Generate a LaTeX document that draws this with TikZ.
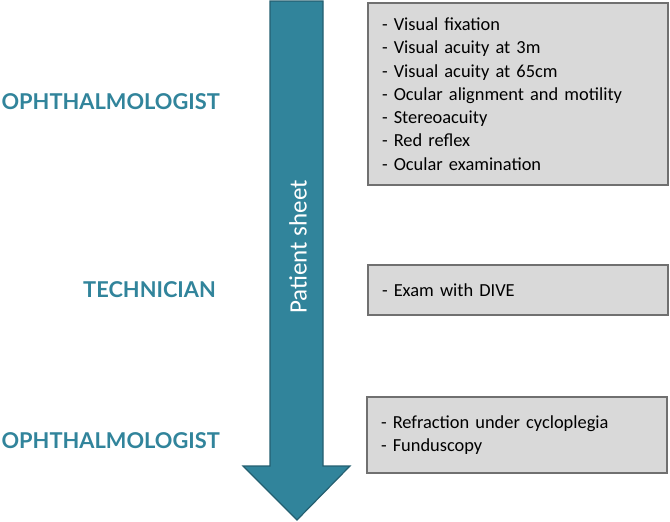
\documentclass[tikz,border=0pt]{standalone}
\usepackage{fontspec}
\setmainfont{Carlito}
\newfontfamily\rolefont{Lato}
\usetikzlibrary{positioning}

\definecolor{sheetteal}{HTML}{31849B}
\definecolor{sheetedge}{HTML}{245F70}
\definecolor{boxfill}{HTML}{D9D9D9}
\definecolor{boxedge}{HTML}{707070}

\begin{document}
\begin{tikzpicture}[
    x=1pt, y=-1pt,
    % styles
    role/.style={anchor=east, text=sheetteal, font=\rolefont\bfseries\fontsize{21.8}{24}\selectfont, inner sep=0pt},
    task/.style={rectangle, draw=boxedge, line width=1.6pt, fill=boxfill, minimum width=300pt, text width=272pt, inner xsep=14pt, align=left, font=\fontsize{18.4}{23.3}\selectfont},
    sheet/.style={fill=sheetteal, draw=sheetedge, line width=1.2pt, line join=miter}
]
\useasboundingbox (0,0) rectangle (670,522);

% --- patient sheet arrow ---
\draw [sheet] (270,1) -- (323,1) -- (323,466) -- (350,466) -- (297,520) -- (243,466) -- (270,466) -- cycle;
\node (sheettext) [rotate=90, text=white, font=\fontsize{25}{28}\selectfont] at (298,247) {Patient sheet};

% --- tasks ---
\node (ophtasks1) [task, minimum height=182pt] at (518,94) {- Visual fixation\\- Visual acuity at 3m\\- Visual acuity at 65cm\\- Ocular alignment and motility\\- Stereoacuity\\- Red reflex\\- Ocular examination};
\node (techtasks) [task, minimum height=50pt] at (518,290) {- Exam with DIVE};
\node (ophtasks2) [task, minimum height=76pt] at (517,435) {- Refraction under cycloplegia\\- Funduscopy};

% --- roles ---
\node (oph1) [role] at (220,102) {OPHTHALMOLOGIST};
\node (tech) [role] at (216,290) {TECHNICIAN};
\node (oph2) [role] at (220,441) {OPHTHALMOLOGIST};

\end{tikzpicture}
\end{document}
